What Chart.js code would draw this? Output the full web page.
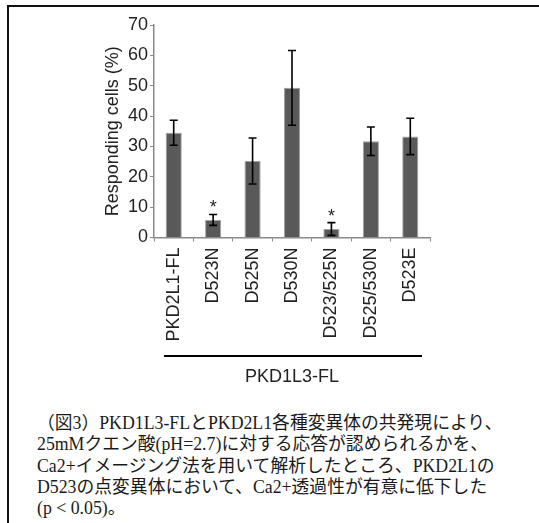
<!DOCTYPE html>
<html>
<head>
<meta charset="utf-8">
<script src="https://cdn.jsdelivr.net/npm/chart.js@4.4.1/dist/chart.umd.min.js"></script>
<style>
    html, body {
        margin: 0;
        padding: 0;
        background: #fff;
        width: 539px;
        height: 523px;
        overflow: hidden;
    }
    .frame {
        position: absolute;
        left: 7px;
        top: 5px;
        right: -4px;
        bottom: -4px;
        border-top: 2px solid #111;
        border-left: 2px solid #111;
    }
    #chart {
        position: absolute;
        left: 0;
        top: 0;
    }
    .caption {
        position: absolute;
        left: 37px;
        top: 413px;
        font-family: "Liberation Serif", "Noto Sans CJK JP", serif;
        font-size: 17.8px;
        line-height: 21.25px;
        color: #1a1a1a;
        white-space: nowrap;
    }
</style>
</head>
<body>
<div class="frame"></div>
<canvas id="chart" width="539" height="395"></canvas>
<div class="caption">
    <div>（図3）PKD1L3-FLとPKD2L1各種変異体の共発現により、</div>
    <div>25mMクエン酸(pH=2.7)に対する応答が認められるかを、</div>
    <div>Ca2+イメージング法を用いて解析したところ、PKD2L1の</div>
    <div>D523の点変異体において、Ca2+透過性が有意に低下した</div>
    <div>(p &lt; 0.05)。</div>
</div>
<script>
// Data
const categories = ['PKD2L1-FL', 'D523N', 'D525N', 'D530N', 'D523/525N', 'D525/530N', 'D523E'];
const responding = [34.5, 5.8, 25.2, 49.3, 2.8, 31.7, 33.3];
const errors = [4.1, 1.8, 7.6, 12.3, 2.1, 4.7, 6.0];
const significant = [false, true, false, false, true, false, false];
const yTicks = [0, 10, 20, 30, 40, 50, 60, 70];
const groupLabel = 'PKD1L3-FL';
const yTitle = 'Responding cells (%)';

const axisColor = '#8a8a8a';
const textColor = '#222';
const fontFamily = '"Liberation Sans", Arial, sans-serif';

// Error bars, significance stars and the group bracket line
const decorations = {
    id: 'decorations',
    afterDatasetsDraw(chart) {
        const ctx = chart.ctx;
        const y = chart.scales.y;
        const x = chart.scales.x;
        const bars = chart.getDatasetMeta(0).data;

        ctx.save();
        ctx.strokeStyle = '#000';
        ctx.lineWidth = 1.6;
        bars.forEach((bar, i) => {
            const top = y.getPixelForValue(responding[i] + errors[i]);
            const bottom = y.getPixelForValue(Math.max(0, responding[i] - errors[i]));
            const cap = 4;
            ctx.beginPath();
            ctx.moveTo(bar.x, top);
            ctx.lineTo(bar.x, bottom);
            ctx.moveTo(bar.x - cap, top);
            ctx.lineTo(bar.x + cap, top);
            ctx.moveTo(bar.x - cap, bottom);
            ctx.lineTo(bar.x + cap, bottom);
            ctx.stroke();

            if (significant[i]) {
                ctx.fillStyle = textColor;
                ctx.font = '18px ' + fontFamily;
                ctx.textAlign = 'center';
                ctx.textBaseline = 'alphabetic';
                ctx.fillText('*', bar.x, top - 1);
            }
        });

        // bracket line above the group title
        const lineY = chart.chartArea.bottom + 118.5;
        ctx.strokeStyle = '#000';
        ctx.lineWidth = 2;
        ctx.beginPath();
        ctx.moveTo(x.left + 10, lineY);
        ctx.lineTo(x.right - 8, lineY);
        ctx.stroke();
        ctx.restore();
    }
};

const chart = new Chart(document.getElementById('chart'), {
    type: 'bar',
    data: {
        labels: categories,
        datasets: [{
            data: responding,
            backgroundColor: '#595959',
            borderColor: '#a3a3a3',
            borderWidth: 1,
            categoryPercentage: 1,
            barPercentage: 0.41
        }]
    },
    options: {
        responsive: false,
        animation: false,
        devicePixelRatio: 1,
        layout: {
            padding: { left: 94, top: 25, right: 109, bottom: 0 }
        },
        plugins: {
            legend: { display: false },
            tooltip: { enabled: false }
        },
        scales: {
            x: {
                grid: {
                    display: true,
                    offset: true,
                    drawOnChartArea: false,
                    drawTicks: true,
                    tickLength: 4,
                    color: axisColor
                },
                border: { display: true, color: axisColor, width: 1.5 },
                ticks: {
                    autoSkip: false,
                    minRotation: 90,
                    maxRotation: 90,
                    padding: 6,
                    color: textColor,
                    font: { family: fontFamily, size: 18 }
                },
                title: {
                    display: true,
                    text: groupLabel,
                    color: textColor,
                    font: { family: fontFamily, size: 18 },
                    padding: { top: 0, bottom: 7 }
                },
                afterFit(scale) {
                    scale.height = 157.5;
                }
            },
            y: {
                min: 0,
                max: 70,
                afterBuildTicks(scale) {
                    scale.ticks = yTicks.map(v => ({ value: v }));
                },
                grid: {
                    display: true,
                    drawOnChartArea: false,
                    drawTicks: true,
                    tickLength: 4,
                    color: axisColor
                },
                border: { display: true, color: axisColor, width: 1.5 },
                ticks: {
                    padding: 2,
                    color: textColor,
                    font: { family: fontFamily, size: 18 }
                },
                title: {
                    display: true,
                    text: yTitle,
                    color: textColor,
                    font: { family: fontFamily, size: 18 },
                    padding: { top: 8, bottom: 0 }
                },
                afterFit(scale) {
                    scale.width = 60;
                }
            }
        }
    },
    plugins: [decorations]
});
</script>
</body>
</html>
